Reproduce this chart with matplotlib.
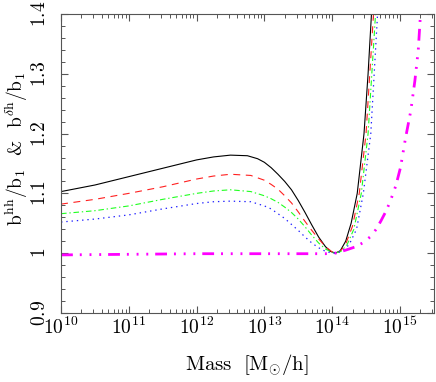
import numpy as np
import matplotlib
matplotlib.use("Agg")
import matplotlib.pyplot as plt
from matplotlib.ticker import FixedLocator, NullFormatter

plt.rcParams["mathtext.fontset"] = "cm"
plt.rcParams["font.family"] = "serif"
plt.rcParams["font.serif"] = ["DejaVu Serif"]
plt.rcParams["lines.scale_dashes"] = False

# log10 mass and bias ratio
logm_black = [10.0, 10.5, 11.0, 11.5, 12.0, 12.25, 12.5, 12.75, 12.9, 13.0, 13.1, 13.2,
              13.3, 13.4, 13.5, 13.6, 13.7, 13.8, 13.9, 13.97, 14.05, 14.12, 14.2,
              14.28, 14.37, 14.47, 14.53, 14.58, 14.65]
b_black = [1.103, 1.114, 1.128, 1.142, 1.156, 1.161, 1.164, 1.163, 1.158, 1.152, 1.143,
           1.132, 1.120, 1.106, 1.088, 1.068, 1.047, 1.027, 1.011, 1.003, 1.000, 1.004,
           1.020, 1.050, 1.100, 1.200, 1.300, 1.400, 1.53]

logm_red = [10.0, 10.5, 11.0, 11.5, 12.0, 12.25, 12.5, 12.8, 13.0, 13.1, 13.2, 13.3,
            13.4, 13.5, 13.6, 13.7, 13.8, 13.9, 14.0, 14.05, 14.12, 14.2, 14.3, 14.4,
            14.5, 14.61, 14.68]
b_red = [1.082, 1.090, 1.100, 1.111, 1.124, 1.129, 1.132, 1.130, 1.122, 1.115, 1.107,
         1.096, 1.084, 1.069, 1.053, 1.038, 1.024, 1.011, 1.002, 1.000, 1.003, 1.015,
         1.045, 1.100, 1.200, 1.400, 1.52]

logm_green = [10.0, 10.5, 11.0, 11.5, 12.0, 12.25, 12.5, 12.8, 13.0, 13.1, 13.2, 13.3,
              13.4, 13.5, 13.6, 13.7, 13.8, 13.9, 14.0, 14.05, 14.13, 14.22, 14.32,
              14.43, 14.53, 14.64, 14.7]
b_green = [1.066, 1.071, 1.079, 1.090, 1.100, 1.104, 1.106, 1.103, 1.096, 1.091, 1.085,
           1.077, 1.068, 1.057, 1.044, 1.030, 1.017, 1.007, 1.001, 1.000, 1.003, 1.014,
           1.040, 1.100, 1.200, 1.400, 1.50]

logm_blue = [10.0, 10.5, 11.0, 11.5, 12.0, 12.25, 12.5, 12.8, 13.0, 13.1, 13.2, 13.3,
             13.4, 13.5, 13.6, 13.7, 13.8, 13.9, 14.0, 14.05, 14.14, 14.25, 14.36,
             14.46, 14.57, 14.67, 14.73]
b_blue = [1.052, 1.057, 1.064, 1.074, 1.083, 1.086, 1.087, 1.086, 1.079, 1.074, 1.066,
          1.058, 1.048, 1.038, 1.027, 1.017, 1.009, 1.003, 1.000, 1.000, 1.003, 1.014,
          1.040, 1.100, 1.200, 1.400, 1.50]

logm_mag = [10.0, 11.0, 12.0, 13.0, 13.5, 13.9, 14.05, 14.2, 14.33, 14.45, 14.57,
            14.65, 14.72, 14.78, 14.84, 14.89, 14.94, 15.01, 15.08, 15.16, 15.22,
            15.27, 15.3, 15.34]
b_mag = [0.997, 0.998, 0.999, 0.999, 0.999, 0.999, 1.000, 1.005, 1.010, 1.017, 1.028,
         1.040, 1.054, 1.067, 1.082, 1.097, 1.113, 1.144, 1.191, 1.238, 1.288,
         1.339, 1.394, 1.46]

yticks = [0.9, 1.0, 1.1, 1.2, 1.3, 1.4]
ytick_labels = ["0.9", "1", "1.1", "1.2", "1.3", "1.4"]
xticks = [1e10, 1e11, 1e12, 1e13, 1e14, 1e15]
xtick_labels = [r"$10^{10}$", r"$10^{11}$", r"$10^{12}$", r"$10^{13}$",
                r"$10^{14}$", r"$10^{15}$"]

fig = plt.figure(figsize=(4.36, 3.82), dpi=100)
ax = fig.add_axes([0.140, 0.181, 0.855, 0.782])

ax.plot(10 ** np.array(logm_black), b_black, color="black", lw=0.8)
ax.plot(10 ** np.array(logm_red), b_red, color="#ff2020", lw=0.8,
        linestyle=(0, (5.0, 4.0)))
ax.plot(10 ** np.array(logm_green), b_green, color="#20ff20", lw=0.8,
        linestyle=(0, (4.0, 2.0, 1.0, 2.0)))
ax.plot(10 ** np.array(logm_blue), b_blue, color="#2020ff", lw=0.9,
        linestyle=(0, (1.0, 2.8)))
ax.plot(10 ** np.array(logm_mag), b_mag, color="#ff00ff", lw=2.0,
        linestyle=(0, (8.5, 5.0, 1.4, 5.6, 1.4, 5.6, 1.4, 5.0)))

ax.set_xscale("log")
ax.set_xlim(1e10, 10 ** 15.5)
ax.set_ylim(0.9, 1.4)

ax.xaxis.set_major_locator(FixedLocator(xticks))
ax.set_xticklabels(xtick_labels, fontsize=14)
ax.xaxis.set_minor_locator(matplotlib.ticker.LogLocator(base=10, subs=np.arange(2, 10)))
ax.xaxis.set_minor_formatter(NullFormatter())

ax.set_yticks(yticks)
ax.set_yticklabels(["$%s$" % t for t in ytick_labels], fontsize=14, rotation=90,
                   va="center")
ax.yaxis.set_minor_locator(matplotlib.ticker.MultipleLocator(0.02))

frame = "#555555"
for s in ax.spines.values():
    s.set_color(frame)
    s.set_linewidth(0.8)
ax.tick_params(which="both", direction="in", top=True, right=True, color=frame)
ax.tick_params(which="major", length=5, width=0.8)
ax.tick_params(which="minor", length=3, width=0.7)
ax.tick_params(axis="x", which="major", pad=3)
ax.tick_params(axis="y", which="major", pad=9)

ax.set_xlabel(r"$\mathrm{Mass}\ \ [\mathrm{M}_{\odot}/\mathrm{h}]$", fontsize=15,
              labelpad=10)
ax.set_ylabel(r"$\mathrm{b^{hh}/b_1}$  &  $\mathrm{b^{\delta h}/b_1}$",
              fontsize=14, family="cmr10", va="center")
ax.yaxis.set_label_coords(-0.12, 0.55)

fig.savefig("out.png", dpi=100)
